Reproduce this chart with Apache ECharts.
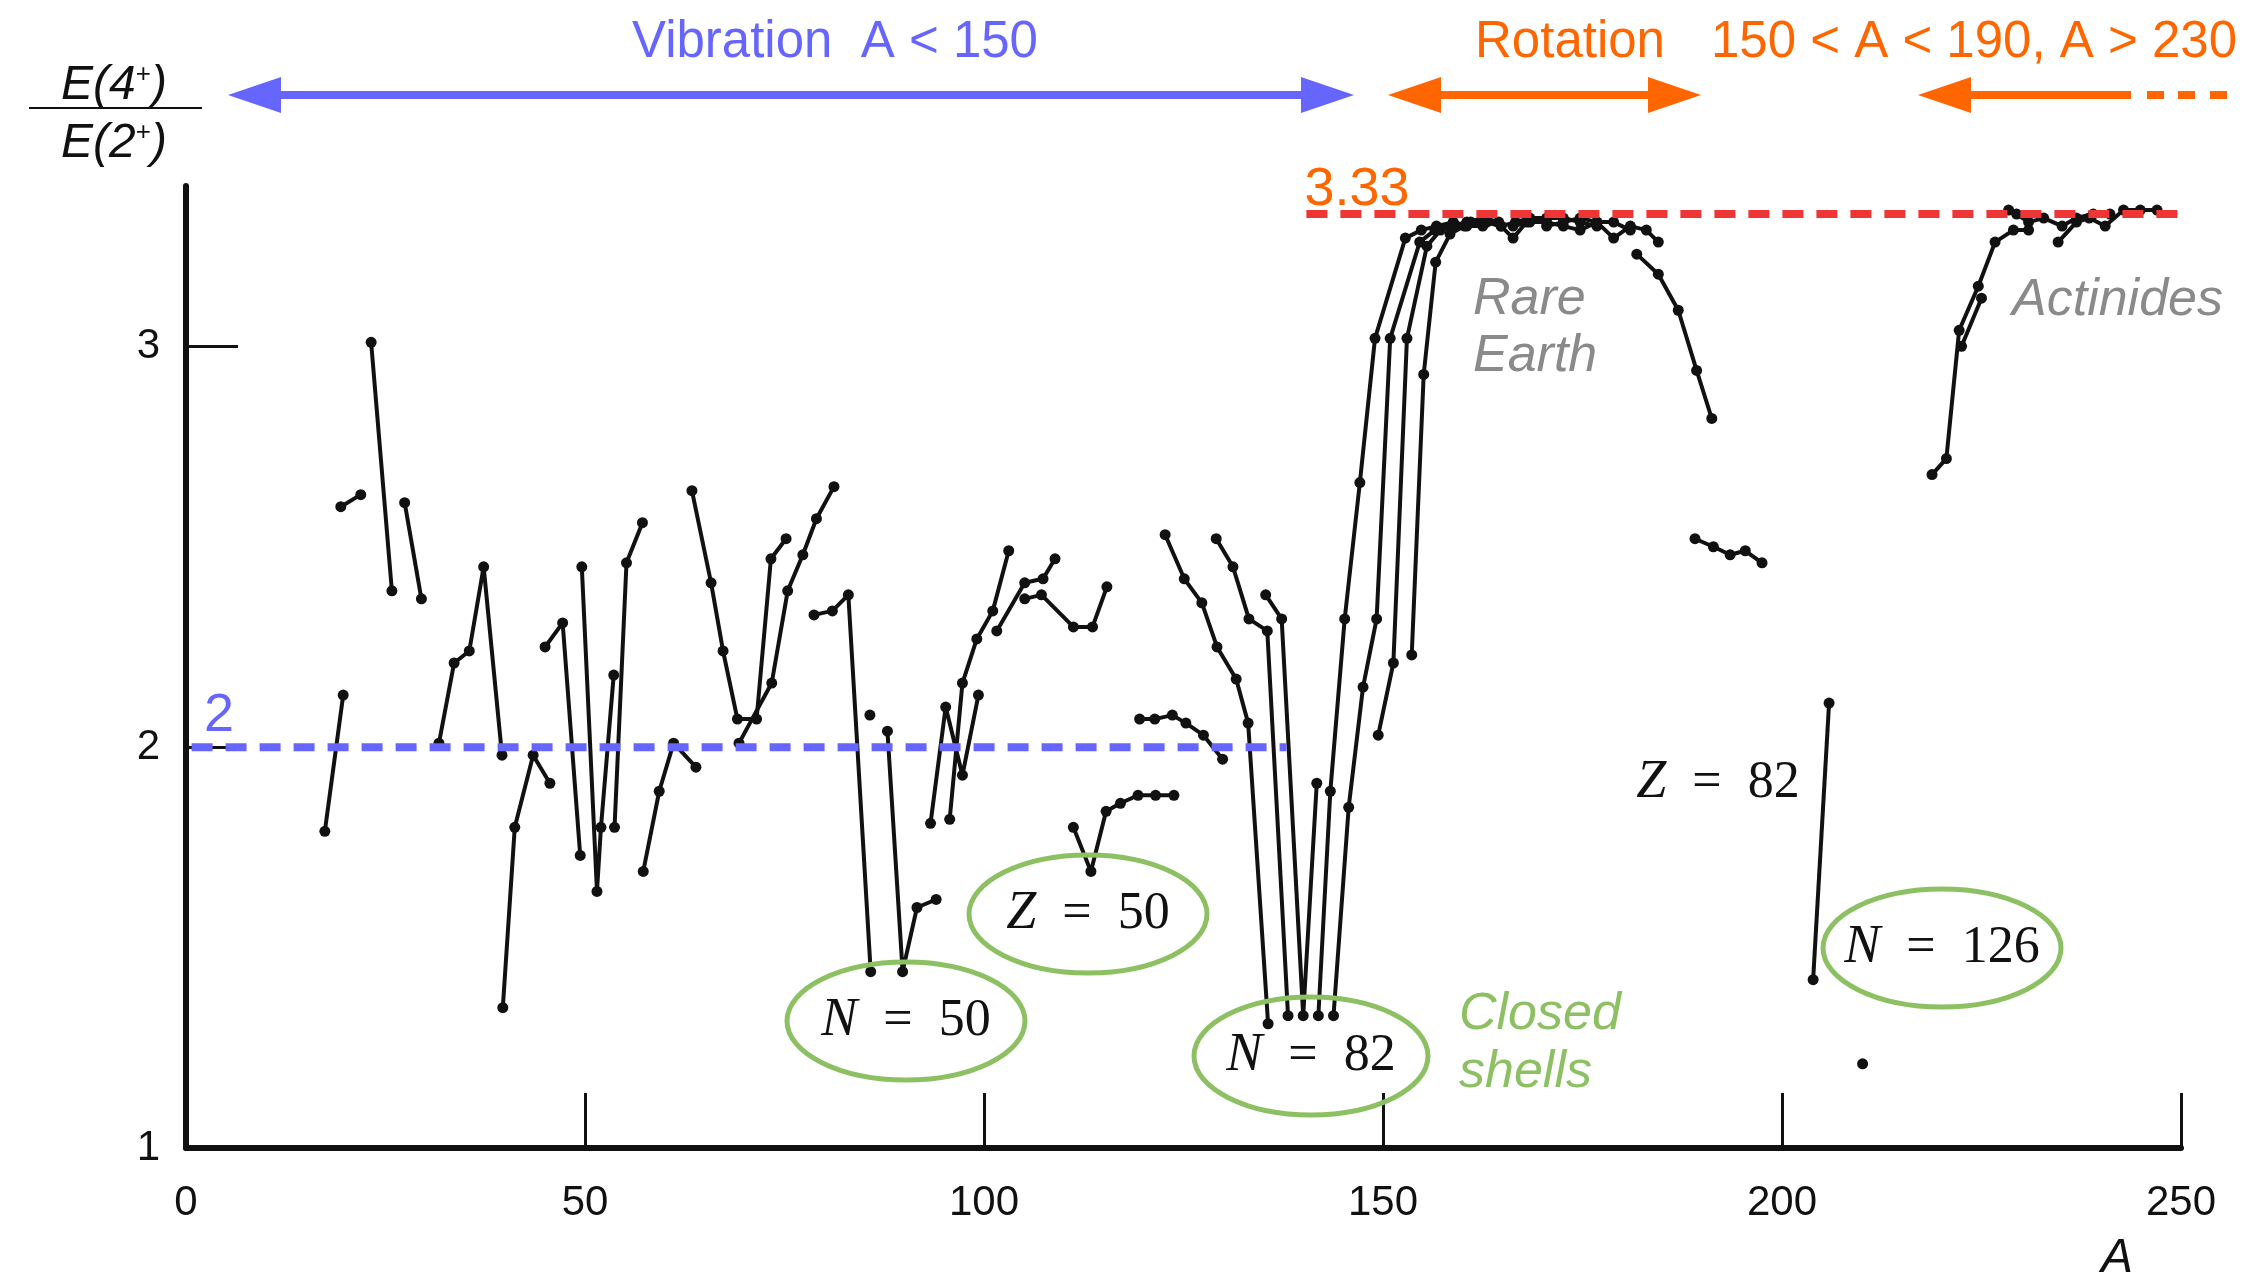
<!DOCTYPE html>
<html>
<head>
<meta charset="utf-8">
<script src="https://cdn.jsdelivr.net/npm/echarts@6/dist/echarts.min.js"></script>
<style>
  html, body { margin: 0; padding: 0; background: #ffffff; }
  #chart { width: 2258px; height: 1283px; }
</style>
</head>
<body>
<div id="chart"></div>
<script>
// E(4+)/E(2+) energy ratio of even-even nuclei versus mass number A.
// Each array is one chain of nuclei drawn as a connected line: [A, ratio].
const chain01 = [[17.4, 1.79], [19.7, 2.13]];
const chain02 = [[19.4, 2.60], [21.9, 2.63]];
const chain03 = [[23.2, 3.01], [25.8, 2.39]];
const chain04 = [[27.4, 2.61], [29.5, 2.37]];
const chain05 = [[31.7, 2.01], [33.6, 2.21], [35.5, 2.24], [37.3, 2.45], [39.6, 1.98]];
const chain06 = [[39.7, 1.35], [41.2, 1.80], [43.5, 1.98], [45.6, 1.91]];
const chain07 = [[45.0, 2.25], [47.2, 2.31], [49.4, 1.73]];
const chain08 = [[49.6, 2.45], [51.5, 1.64], [52.0, 1.80], [53.6, 2.18]];
const chain09 = [[53.7, 1.80], [55.2, 2.46], [57.2, 2.56]];
const chain10 = [[57.3, 1.69], [59.3, 1.89], [61.1, 2.01], [63.9, 1.95]];
const chain11 = [[63.4, 2.64], [65.8, 2.41], [67.3, 2.24], [69.1, 2.07], [71.5, 2.07], [73.3, 2.47], [75.2, 2.52]];
const chain12 = [[69.3, 2.01], [73.4, 2.16], [75.4, 2.39], [77.3, 2.48], [79.0, 2.57], [81.2, 2.65]];
const chain13 = [[78.7, 2.33], [81.0, 2.34], [83.0, 2.38], [85.8, 1.44]];
const chain14 = [[85.7, 2.08]];
const chain15 = [[87.9, 2.04], [89.8, 1.44], [91.6, 1.60], [94.0, 1.62]];
const chain16 = [[93.3, 1.81], [95.2, 2.10], [97.3, 1.93], [99.3, 2.13]];
const chain17 = [[95.7, 1.82], [97.3, 2.16], [99.1, 2.27], [101.1, 2.34], [103.1, 2.49]];
const chain18 = [[101.6, 2.29], [105.1, 2.41], [107.4, 2.42], [108.9, 2.47]];
const chain19 = [[105.1, 2.37], [107.2, 2.38], [111.2, 2.30], [113.6, 2.30], [115.4, 2.40]];
const chain20 = [[111.2, 1.80], [113.4, 1.69], [115.3, 1.84], [117.1, 1.86], [119.3, 1.88], [121.5, 1.88], [123.8, 1.88]];
const chain21 = [[119.5, 2.07], [121.4, 2.07], [123.6, 2.08], [125.3, 2.06], [127.5, 2.03], [129.9, 1.97]];
const chain22 = [[122.7, 2.53], [125.1, 2.42], [127.3, 2.36], [129.2, 2.25], [131.6, 2.17], [133.1, 2.06], [135.6, 1.31]];
const chain23 = [[129.1, 2.52], [131.2, 2.45], [133.2, 2.32], [135.5, 2.29], [138.1, 1.33]];
const chain24 = [[135.3, 2.38], [137.3, 2.32], [140.0, 1.33], [141.7, 1.91]];
const chain25 = [[141.9, 1.33], [143.4, 1.89], [145.2, 2.32], [147.1, 2.66], [149.0, 3.02], [152.8, 3.27], [154.8, 3.29], [156.7, 3.30], [158.8, 3.31], [160.5, 3.30]];
const chain26 = [[143.8, 1.33], [145.7, 1.85], [147.5, 2.15], [149.2, 2.32], [150.9, 3.02], [154.6, 3.26], [156.5, 3.29], [158.5, 3.30], [160.5, 3.31], [162.8, 3.32], [164.5, 3.31]];
const chain27 = [[149.4, 2.03], [151.3, 2.21], [153.0, 3.02], [155.5, 3.25], [157.2, 3.29], [159.2, 3.30], [161.0, 3.31], [163.0, 3.31], [164.8, 3.30], [166.3, 3.27], [168.0, 3.31]];
const chain28 = [[153.6, 2.23], [155.1, 2.93], [156.6, 3.21], [158.4, 3.28], [160.2, 3.30], [162.5, 3.30]];
const chain29 = [[162.8, 3.31], [164.8, 3.30], [166.6, 3.31], [168.4, 3.32], [170.5, 3.32], [172.6, 3.32], [174.7, 3.31], [176.8, 3.30]];
const chain30 = [[166.3, 3.30], [168.4, 3.31], [170.5, 3.31], [172.6, 3.30], [174.7, 3.29], [176.8, 3.31], [178.9, 3.27], [181.0, 3.30], [183.0, 3.29], [184.5, 3.26]];
const chain31 = [[170.5, 3.30], [172.6, 3.31], [174.7, 3.32], [176.8, 3.31], [178.9, 3.31], [181.0, 3.29]];
const chain32 = [[181.8, 3.23], [184.5, 3.18], [187.0, 3.09], [189.3, 2.94], [191.2, 2.82]];
const chain33 = [[189.1, 2.52], [191.4, 2.50], [193.5, 2.48], [195.4, 2.49], [197.5, 2.46]];
const chain34 = [[203.9, 1.42], [205.9, 2.11]];
const chain35 = [[210.1, 1.21]];
const chain36 = [[218.8, 2.68], [220.6, 2.72], [222.2, 3.04], [224.6, 3.15], [226.7, 3.26], [229.0, 3.29], [230.9, 3.29]];
const chain37 = [[222.5, 3.00], [225.0, 3.12]];
const chain38 = [[228.4, 3.34], [229.4, 3.33], [230.9, 3.31], [232.8, 3.32], [235.1, 3.30], [236.9, 3.32], [239.0, 3.33], [241.1, 3.33]];
const chain39 = [[234.6, 3.26], [236.9, 3.31], [238.5, 3.32], [240.5, 3.30], [242.8, 3.34], [244.9, 3.34], [247.0, 3.34]];

const chains = [
  chain01, chain02, chain03, chain04, chain05, chain06, chain07, chain08, chain09, chain10,
  chain11, chain12, chain13, chain14, chain15, chain16, chain17, chain18, chain19, chain20,
  chain21, chain22, chain23, chain24, chain25, chain26, chain27, chain28, chain29, chain30,
  chain31, chain32, chain33, chain34, chain35, chain36, chain37, chain38, chain39
];

// Limits: harmonic vibrator (ratio 2) and rigid rotor (ratio 3.33)
const vibrationRatio = 2;
const rotationRatio = 3.33;
const vibrationRange = [0.7, 137.9];
const rotationRange = [140.4, 252.9];

// Axis ticks
const xTickLabels = [0, 50, 100, 150, 200, 250];
const xTickMarks = [50, 100, 150, 200, 250];
const yTickLabels = [1, 2, 3];
const yTickMarks = [2, 3];

const BLUE = '#6666ff';
const ORANGE = '#ff6600';
const RED = '#ef3535';
const GREEN = '#8cc062';
const GRAY = '#8a8a8a';
const INK = '#111111';

const chart = echarts.init(document.getElementById('chart'), null, { renderer: 'canvas' });

const dataSeries = chains.map(function (c) {
  return {
    type: 'line',
    data: c,
    symbol: 'circle',
    symbolSize: 11,
    showSymbol: true,
    lineStyle: { color: INK, width: 4 },
    itemStyle: { color: INK },
    z: 3,
    animation: false,
    silent: true
  };
});

function limitSeries(value, range, color) {
  return {
    type: 'line',
    data: [[range[0], value], [range[1], value]],
    symbol: 'none',
    clip: false,
    lineStyle: { color: color, width: 8, type: [21, 13] },
    z: 4,
    animation: false,
    silent: true
  };
}

// Double/single headed arrow drawn as a bar plus triangular heads
function arrow(x1, x2, y, color, leftHead, rightHead) {
  const L = 53, H = 18, W = 8;
  const items = [];
  const a = leftHead ? x1 + L - 2 : x1;
  const b = rightHead ? x2 - L + 2 : x2;
  items.push({ type: 'line', shape: { x1: a, y1: y, x2: b, y2: y }, style: { stroke: color, lineWidth: W }, z: 50 });
  if (leftHead) items.push({ type: 'polygon', shape: { points: [[x1, y], [x1 + L, y - H], [x1 + L, y + H]] }, style: { fill: color }, z: 50 });
  if (rightHead) items.push({ type: 'polygon', shape: { points: [[x2, y], [x2 - L, y - H], [x2 - L, y + H]] }, style: { fill: color }, z: 50 });
  return items;
}

function ellipse(cx, cy, rx, ry) {
  return { type: 'ellipse', shape: { cx: cx, cy: cy, rx: rx, ry: ry }, style: { fill: 'none', stroke: GREEN, lineWidth: 5 }, z: 60 };
}

function shellLabel(x, y, sym, num) {
  return {
    type: 'text', x: x, y: y, z: 61,
    style: {
      text: '{i|' + sym + '}{n|  =  ' + num + '}',
      align: 'center', verticalAlign: 'middle',
      rich: {
        i: { fontFamily: 'Liberation Serif', fontStyle: 'italic', fontSize: 54, fill: INK },
        n: { fontFamily: 'Liberation Serif', fontSize: 52, fill: INK }
      }
    }
  };
}

function plainText(x, y, text, color, size, italic, align) {
  return {
    type: 'text', x: x, y: y, z: 62,
    style: {
      text: text, fill: color, fontSize: size,
      fontFamily: 'Liberation Sans', fontStyle: italic ? 'italic' : 'normal',
      align: align || 'center', verticalAlign: 'middle'
    }
  };
}

const graphics = [].concat(
  // region headers
  plainText(835, 43, 'Vibration  A < 150', BLUE, 51),
  plainText(1570, 43, 'Rotation', ORANGE, 51),
  plainText(1974, 43, '150 < A < 190, A > 230', ORANGE, 51),
  arrow(228, 1354, 95, BLUE, true, true),
  arrow(1388, 1701, 95, ORANGE, true, true),
  arrow(1918, 2131, 95, ORANGE, true, false),
  [
    { type: 'line', shape: { x1: 2147, y1: 95, x2: 2164, y2: 95 }, style: { stroke: ORANGE, lineWidth: 8 }, z: 50 },
    { type: 'line', shape: { x1: 2178, y1: 95, x2: 2195, y2: 95 }, style: { stroke: ORANGE, lineWidth: 8 }, z: 50 },
    { type: 'line', shape: { x1: 2210, y1: 95, x2: 2227, y2: 95 }, style: { stroke: ORANGE, lineWidth: 8 }, z: 50 }
  ],
  // y-axis quantity as a fraction
  [
    {
      type: 'text', x: 114, y: 86, z: 62,
      style: {
        text: '{e|E(4}{s|+}{e|)}', align: 'center', verticalAlign: 'middle',
        rich: {
          e: { fontFamily: 'Liberation Sans', fontStyle: 'italic', fontSize: 48, fill: INK },
          s: { fontFamily: 'Liberation Sans', fontSize: 26, fill: INK, verticalAlign: 'top', padding: [0, 0, 18, 0] }
        }
      }
    },
    { type: 'line', shape: { x1: 29, y1: 108, x2: 202, y2: 108 }, style: { stroke: INK, lineWidth: 2 }, z: 62 },
    {
      type: 'text', x: 114, y: 144, z: 62,
      style: {
        text: '{e|E(2}{s|+}{e|)}', align: 'center', verticalAlign: 'middle',
        rich: {
          e: { fontFamily: 'Liberation Sans', fontStyle: 'italic', fontSize: 48, fill: INK },
          s: { fontFamily: 'Liberation Sans', fontSize: 26, fill: INK, verticalAlign: 'top', padding: [0, 0, 18, 0] }
        }
      }
    }
  ],
  // x-axis quantity
  plainText(2117, 1259, 'A', INK, 48, true),
  // limit labels
  plainText(219, 716, String(vibrationRatio), BLUE, 54),
  plainText(1357, 190, rotationRatio.toFixed(2), ORANGE, 54),
  // region names
  plainText(1473, 300, 'Rare', GRAY, 52, true, 'left'),
  plainText(1473, 357, 'Earth', GRAY, 52, true, 'left'),
  plainText(2012, 301, 'Actinides', GRAY, 52, true, 'left'),
  plainText(1459, 1015, 'Closed', GREEN, 52, true, 'left'),
  plainText(1459, 1073, 'shells', GREEN, 52, true, 'left'),
  // magic numbers
  ellipse(906, 1021, 119, 59), shellLabel(906, 1021, 'N', '50'),
  ellipse(1088, 914, 119, 59), shellLabel(1088, 914, 'Z', '50'),
  ellipse(1311, 1056, 117, 59), shellLabel(1311, 1056, 'N', '82'),
  ellipse(1942, 948, 119, 59), shellLabel(1942, 948, 'N', '126'),
  shellLabel(1718, 783, 'Z', '82')
);

const option = {
  backgroundColor: '#ffffff',
  animation: false,
  grid: { left: 186, right: 77, top: 186, bottom: 135, containLabel: false },
  xAxis: {
    type: 'value', min: 0, max: 250,
    axisLine: { show: true, onZero: false, lineStyle: { color: INK, width: 6 } },
    axisTick: { show: true, inside: true, length: 55, customValues: xTickMarks, lineStyle: { color: INK, width: 3 } },
    axisLabel: { show: true, customValues: xTickLabels, margin: 34, fontSize: 42, color: INK, fontFamily: 'Liberation Sans' },
    splitLine: { show: false }
  },
  yAxis: {
    type: 'value', min: 1, max: 3.4,
    axisLine: { show: true, onZero: false, lineStyle: { color: INK, width: 6 } },
    axisTick: { show: true, inside: true, length: 52, customValues: yTickMarks, lineStyle: { color: INK, width: 3 } },
    axisLabel: { show: true, customValues: yTickLabels, margin: 26, fontSize: 42, color: INK, fontFamily: 'Liberation Sans' },
    splitLine: { show: false }
  },
  series: dataSeries.concat([
    limitSeries(vibrationRatio, vibrationRange, BLUE),
    limitSeries(rotationRatio, rotationRange, RED)
  ]),
  graphic: { elements: graphics }
};

chart.setOption(option);
</script>
</body>
</html>
